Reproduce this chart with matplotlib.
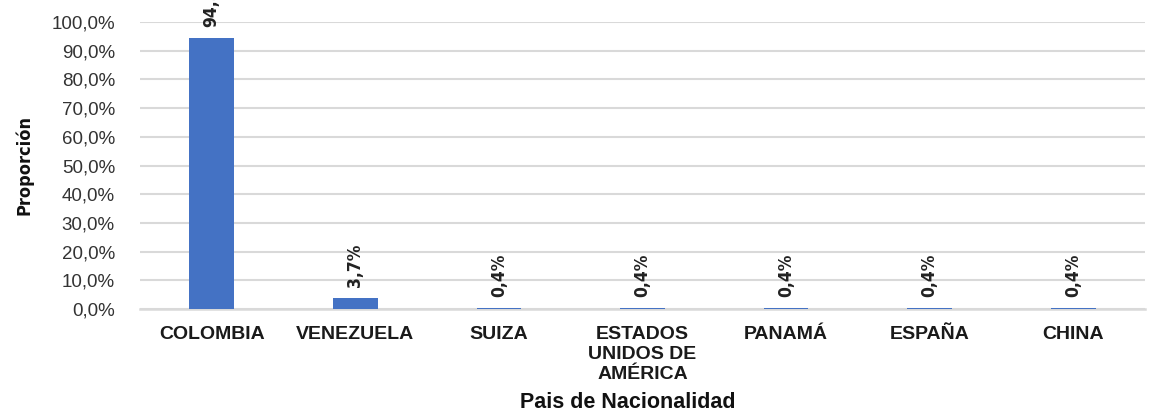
import matplotlib
matplotlib.use("Agg")
import matplotlib.pyplot as plt
from matplotlib.ticker import FuncFormatter

paises = ["COLOMBIA", "VENEZUELA", "SUIZA", "ESTADOS\nUNIDOS DE\nAMÉRICA",
          "PANAMÁ", "ESPAÑA", "CHINA"]
proporcion = [94.5, 3.7, 0.4, 0.4, 0.4, 0.4, 0.4]
yticks = [0, 10, 20, 30, 40, 50, 60, 70, 80, 90, 100]

BLUE = "#4472C4"
GRID = "#d9d9d9"
NARROW = ["Liberation Sans Narrow", "DejaVu Sans"]

plt.rcParams["font.family"] = ["Liberation Sans", "DejaVu Sans"]

fig = plt.figure(figsize=(11.5, 4.12), dpi=100)
ax = fig.add_axes([0.1217, 0.25, 0.874, 0.6966])

x = range(len(paises))
ax.bar(x, proporcion, width=0.31, color=BLUE, zorder=3)

for xi, v in zip(x, proporcion):
    ax.annotate(f"{v:.1f}%".replace(".", ","), (xi, v), xytext=(0, 8),
                textcoords="offset points", rotation=90, ha="center",
                va="bottom", fontsize=12.5, fontweight="bold", stretch="condensed",
                family=NARROW, color="#222222", annotation_clip=False)

ax.set_xlim(-0.5, len(paises) - 0.5)
ax.set_ylim(0, 100)
ax.set_yticks(yticks)
ax.yaxis.set_major_formatter(FuncFormatter(lambda v, _: f"{v:.1f}%".replace(".", ",")))
ax.grid(axis="y", color=GRID, lw=1.5, zorder=0)
ax.set_xticks(list(x))
ax.set_xticklabels(paises, fontweight="bold", fontsize=14, color="#1a1a1a",
                   linespacing=1.25)
ax.tick_params(axis="x", length=0, pad=12)
ax.tick_params(axis="y", length=0, pad=18, labelsize=13.5, labelcolor="#333333")
for s in ["top", "right", "left"]:
    ax.spines[s].set_visible(False)
ax.spines["bottom"].set_color(GRID)
ax.spines["bottom"].set_linewidth(1.8)

fig.text(0.021, 0.60, "Proporción", rotation=90, ha="center", va="center",
         fontsize=13, fontweight="bold", stretch="condensed", family=NARROW,
         color="#111111")
fig.text(0.546, 0.022, "Pais de Nacionalidad", ha="center", va="center",
         fontsize=15.5, fontweight="bold", color="#111111")

fig.savefig("out.png", dpi=100)
